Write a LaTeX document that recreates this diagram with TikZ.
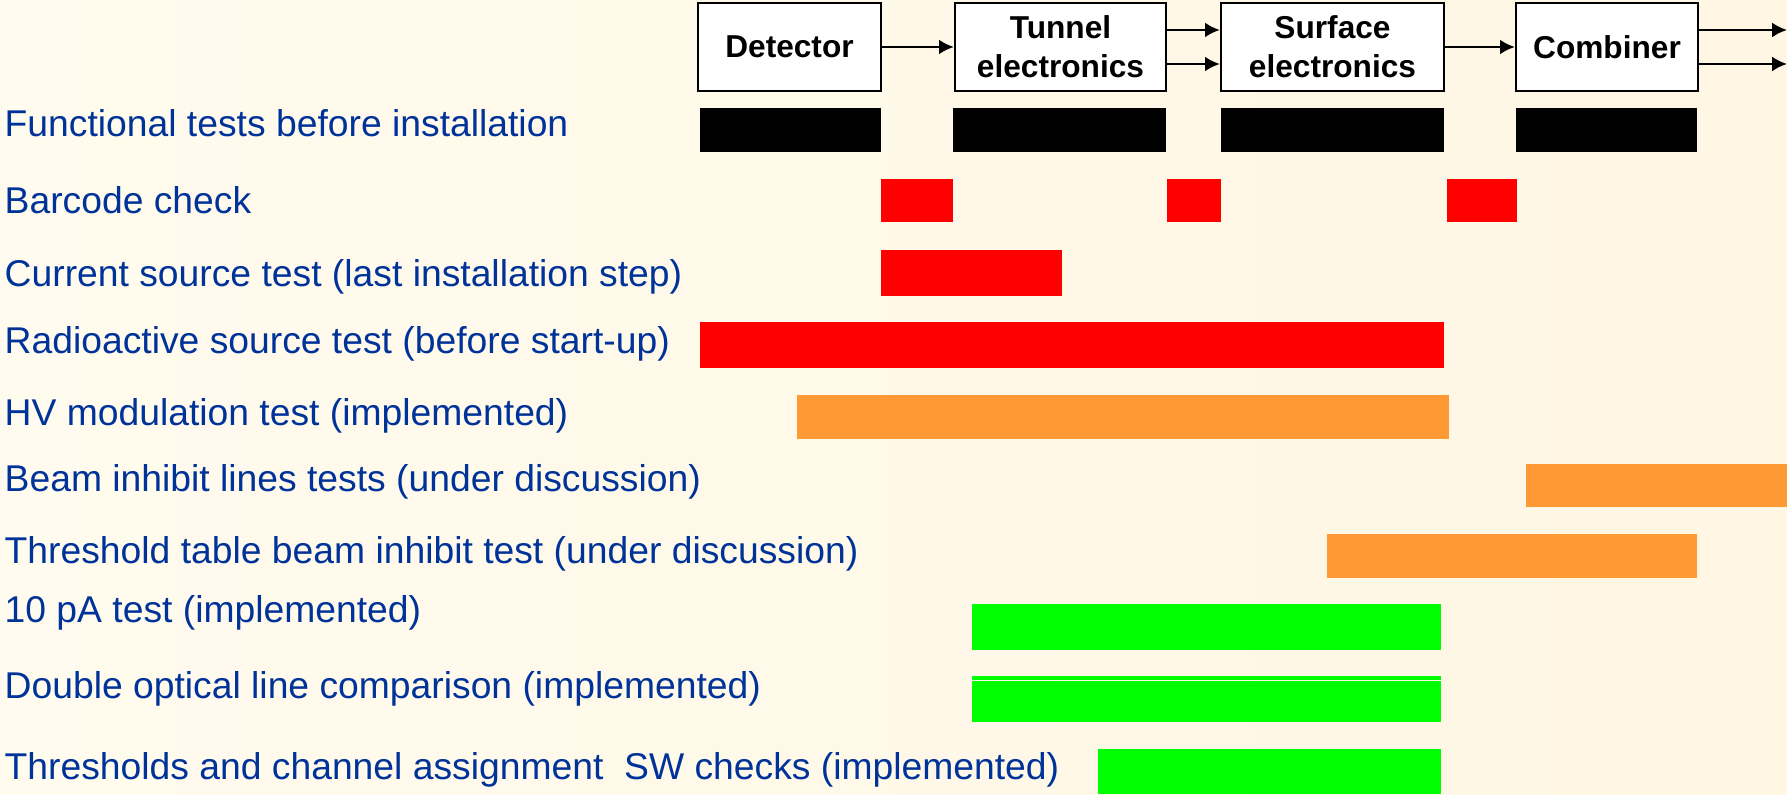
\documentclass[tikz,border=0pt]{standalone}
\usepackage{fontspec}
\setmainfont{Liberation Sans}
\usetikzlibrary{arrows.meta}
\definecolor{creamL}{RGB}{255,251,238}
\definecolor{creamR}{RGB}{255,246,227}
\definecolor{lblblue}{RGB}{0,51,153}
\definecolor{barorange}{RGB}{255,153,51}
\definecolor{bargreen}{RGB}{0,255,0}
\tikzset{
  stage/.style={draw, fill=white, line width=0.6pt, inner sep=0pt, minimum height=0.88cm,
    align=center, font=\fontsize{9}{11}\selectfont\bfseries},
  lbl/.style={anchor=base west, inner sep=0pt, text=lblblue, font=\fontsize{10.6}{12}\selectfont},
  link/.style={->, line width=0.7pt}
}
\begin{document}
\begin{tikzpicture}[x=0.01cm, y=-0.01cm, >={Latex[length=4.2pt,width=4.2pt]}]
  % fond
  \useasboundingbox (0,0) rectangle (1787,795);
  \shade[left color=creamL, right color=creamR] (0,0) rectangle (1787,795);

  % chaine d'acquisition
  \node[stage, minimum width=1.83cm] (det) at (789.5,47) {Detector};
  \node[stage, minimum width=2.11cm] (tun) at (1060.5,47) {Tunnel\\electronics};
  \node[stage, minimum width=2.23cm] (sur) at (1332.5,47) {Surface\\electronics};
  \node[stage, minimum width=1.82cm] (comb) at (1607,47) {Combiner};
  \coordinate (out1) at (1787,30);
  \coordinate (out2) at (1787,64);

  \draw[link] (det.east) -- (tun.west);
  \draw[link] ([yshift=0.17cm]tun.east) -- ([yshift=0.17cm]sur.west);
  \draw[link] ([yshift=-0.17cm]tun.east) -- ([yshift=-0.17cm]sur.west);
  \draw[link] (sur.east) -- (comb.west);
  \draw[link] (comb.east |- out1) -- (out1);
  \draw[link] (comb.east |- out2) -- (out2);

  % tests
  \node[lbl] (functional) at (4,137) {Functional tests before installation};
  \node[lbl] (barcode) at (4,214) {Barcode check};
  \node[lbl] (current) at (4,287) {Current source test (last installation step)};
  \node[lbl] (radio) at (4,354) {Radioactive source test (before start-up)};
  \node[lbl] (hv) at (4,426) {HV modulation test (implemented)};
  \node[lbl] (beam) at (4,492) {Beam inhibit lines tests (under discussion)};
  \node[lbl] (table) at (4,564) {Threshold table beam inhibit test (under discussion)};
  \node[lbl] (pa) at (4,623) {10 pA test (implemented)};
  \node[lbl] (optical) at (4,699) {Double optical line comparison (implemented)};
  \node[lbl] (sw) at (4,780) {Thresholds and channel assignment~ SW checks (implemented)};

  % barres
  \fill[black] (700,108) rectangle (881,152);     % detecteur
  \fill[black] (953,108) rectangle (1166,152);    % tunnel
  \fill[black] (1221,108) rectangle (1444,152);   % surface
  \fill[black] (1516,108) rectangle (1697,152);   % combiner

  \fill[red] (881,179) rectangle (953,222);
  \fill[red] (1167,179) rectangle (1221,222);
  \fill[red] (1447,179) rectangle (1517,222);
  \fill[red] (881,250) rectangle (1062,296);
  \fill[red] (700,322) rectangle (1444,368);

  \fill[barorange] (797,395) rectangle (1449,439);
  \fill[barorange] (1526,464) rectangle (1787,507);
  \fill[barorange] (1327,534) rectangle (1697,578);

  \fill[bargreen] (972,604) rectangle (1441,650);
  \fill[bargreen] (972,676) rectangle (1441,680);
  \fill[bargreen] (972,681) rectangle (1441,722);
  \fill[bargreen] (1098,749) rectangle (1441,794);
\end{tikzpicture}
\end{document}
